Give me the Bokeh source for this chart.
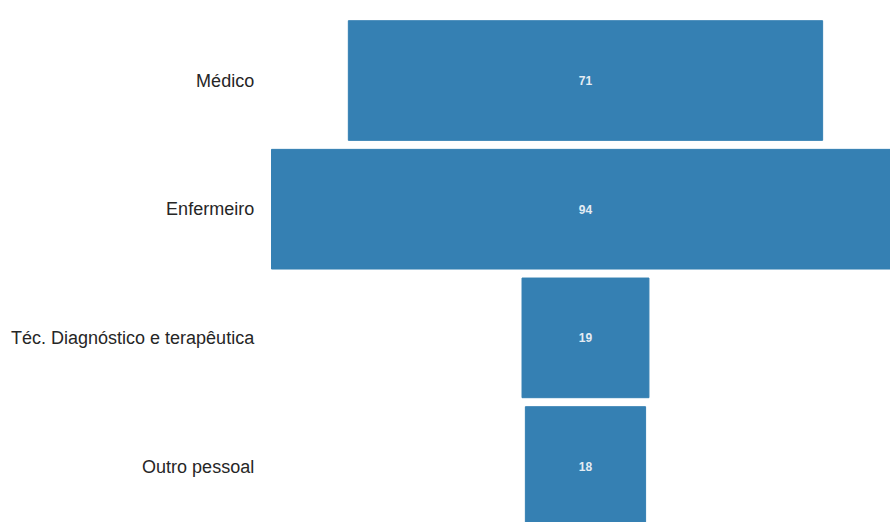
from bokeh.plotting import figure
from bokeh.models import ColumnDataSource, Range1d
from bokeh.core.properties import value
from bokeh.embed import file_html
from bokeh.resources import INLINE

categories = ["Médico", "Enfermeiro", "Téc. Diagnóstico e terapêutica", "Outro pessoal"]
values = [71, 94, 19, 18]

pos = list(range(len(categories)))
src = ColumnDataSource(dict(
    y=pos,
    left=[-v / 2 for v in values],
    right=[v / 2 for v in values],
    cat=categories,
    lab=[str(v) for v in values],
    zero=[0] * len(values),
))

p = figure(width=890, height=522, output_backend="svg", toolbar_location=None,
           x_range=Range1d(-87.57, 45.66), y_range=Range1d(3.435, -0.622),
           min_border=0)
p.axis.visible = False
p.grid.visible = False
p.outline_line_color = None
p.background_fill_color = "white"
p.border_fill_color = "white"

p.hbar(y="y", left="left", right="right", height=0.93, source=src,
       fill_color="#3580b3", line_color="#3580b3")

p.text(x="zero", y="y", text="lab", source=src, text_align="center",
       text_baseline="middle", text_color="#e4ecf3", text_font=value("Liberation Sans"),
       text_font_size="12px", text_font_style="bold")

label_x = -49.6
p.text(x=label_x, y="y", text="cat", source=src, text_align="right",
       text_baseline="middle", text_color="#262626", text_font=value("Liberation Sans"),
       text_font_size="18px")

open("out.html", "w").write(file_html(p, INLINE))
